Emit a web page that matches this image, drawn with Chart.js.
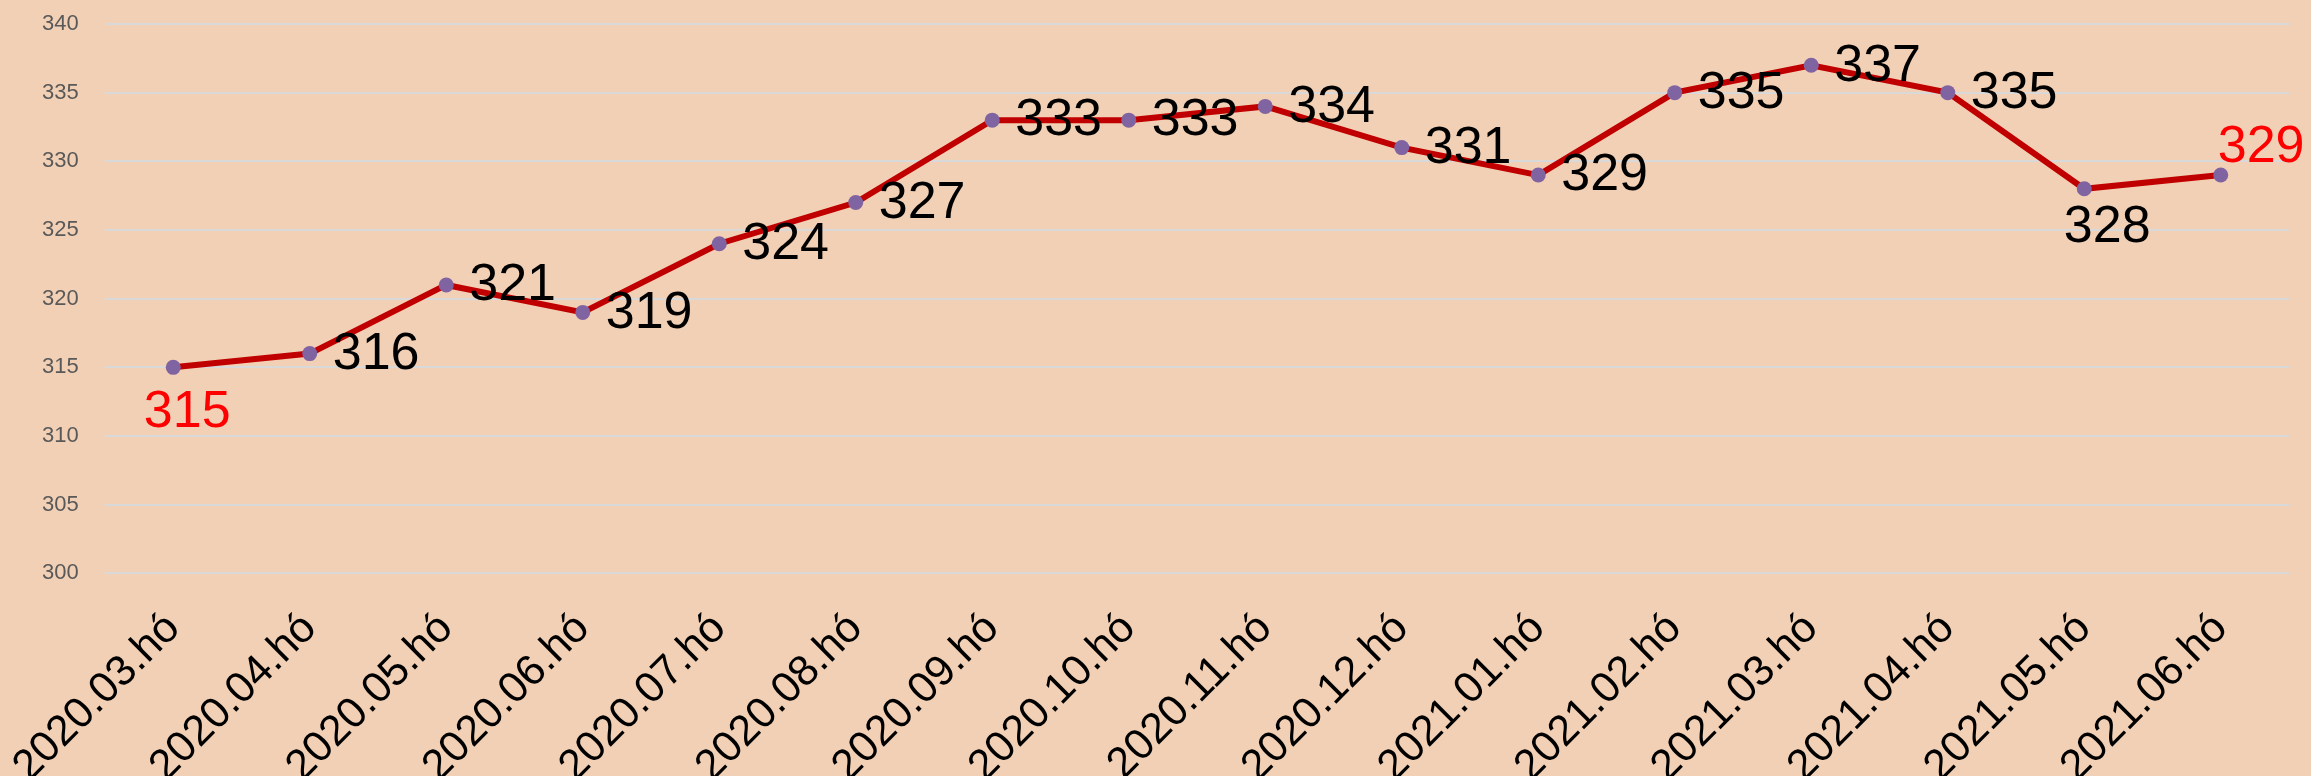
<!DOCTYPE html>
<html>
<head>
<meta charset="utf-8">
<script src="https://cdn.jsdelivr.net/npm/chart.js@4/dist/chart.umd.min.js"></script>
<style>
  html, body { margin: 0; padding: 0; background: #f2d0b5; }
  #wrap { width: 2311px; height: 776px; }
</style>
</head>
<body>
<div id="wrap"><canvas id="chart"></canvas></div>
<script>
const months = ['2020.03.hó', '2020.04.hó', '2020.05.hó', '2020.06.hó', '2020.07.hó', '2020.08.hó',
    '2020.09.hó', '2020.10.hó', '2020.11.hó', '2020.12.hó', '2021.01.hó', '2021.02.hó',
    '2021.03.hó', '2021.04.hó', '2021.05.hó', '2021.06.hó'];
const values = [315, 316, 321, 319, 324, 327, 333, 333, 334, 331, 329, 335, 337, 335, 328, 329];
const yMin = 300;
const yMax = 340;
const yStep = 5;

// where each value label sits relative to its point
function labelPlacement(i) {
    if (i === 0) return { dx: 14, dy: 45, align: 'center', color: '#ff0000' };
    if (i === values.length - 1) return { dx: -3, dy: -27, align: 'left', color: '#ff0000' };
    if (i === 14) return { dx: 23, dy: 39, align: 'center', color: '#000000' };
    return { dx: 23, dy: 1, align: 'left', color: '#000000' };
}

const valueLabels = {
    id: 'valueLabels',
    afterDatasetsDraw(chart) {
        const ctx = chart.ctx;
        const meta = chart.getDatasetMeta(0);
        ctx.save();
        ctx.font = '52px "Liberation Sans", Arial, sans-serif';
        ctx.textBaseline = 'middle';
        meta.data.forEach((pt, i) => {
            const p = labelPlacement(i);
            ctx.fillStyle = p.color;
            ctx.textAlign = p.align;
            ctx.fillText(String(values[i]), pt.x + p.dx, pt.y + p.dy);
        });
        ctx.restore();
    }
};

new Chart(document.getElementById('chart').getContext('2d'), {
    type: 'line',
    data: {
        labels: months,
        datasets: [{
            data: values,
            borderColor: '#c00000',
            borderWidth: 6,
            pointBackgroundColor: '#8064a2',
            pointBorderColor: '#8064a2',
            pointRadius: 7.5,
            pointBorderWidth: 0,
            fill: false,
            tension: 0
        }]
    },
    options: {
        responsive: true,
        maintainAspectRatio: false,
        animation: false,
        layout: { padding: { left: 42, right: 22, top: 24, bottom: -38 } },
        plugins: {
            legend: { display: false },
            tooltip: { enabled: false }
        },
        scales: {
            x: {
                offset: true,
                grid: { display: false },
                border: { display: false },
                // rotated first label may hang past the left edge, like the original
                afterFit(scale) { scale.paddingLeft = 0; scale.paddingRight = 0; },
                ticks: {
                    color: '#000000',
                    font: { family: '"Liberation Sans", Arial, sans-serif', size: 43 },
                    minRotation: 45,
                    maxRotation: 45,
                    autoSkip: false,
                    padding: 22
                }
            },
            y: {
                min: yMin,
                max: yMax,
                grid: { color: '#d9d9d9', lineWidth: 2, drawTicks: false },
                border: { display: false },
                afterFit(scale) { scale.width = 63; },
                ticks: {
                    stepSize: yStep,
                    color: '#595959',
                    crossAlign: 'far',
                    font: { family: '"Liberation Sans", Arial, sans-serif', size: 22 },
                    padding: 4
                }
            }
        }
    },
    plugins: [valueLabels]
});
</script>
</body>
</html>
